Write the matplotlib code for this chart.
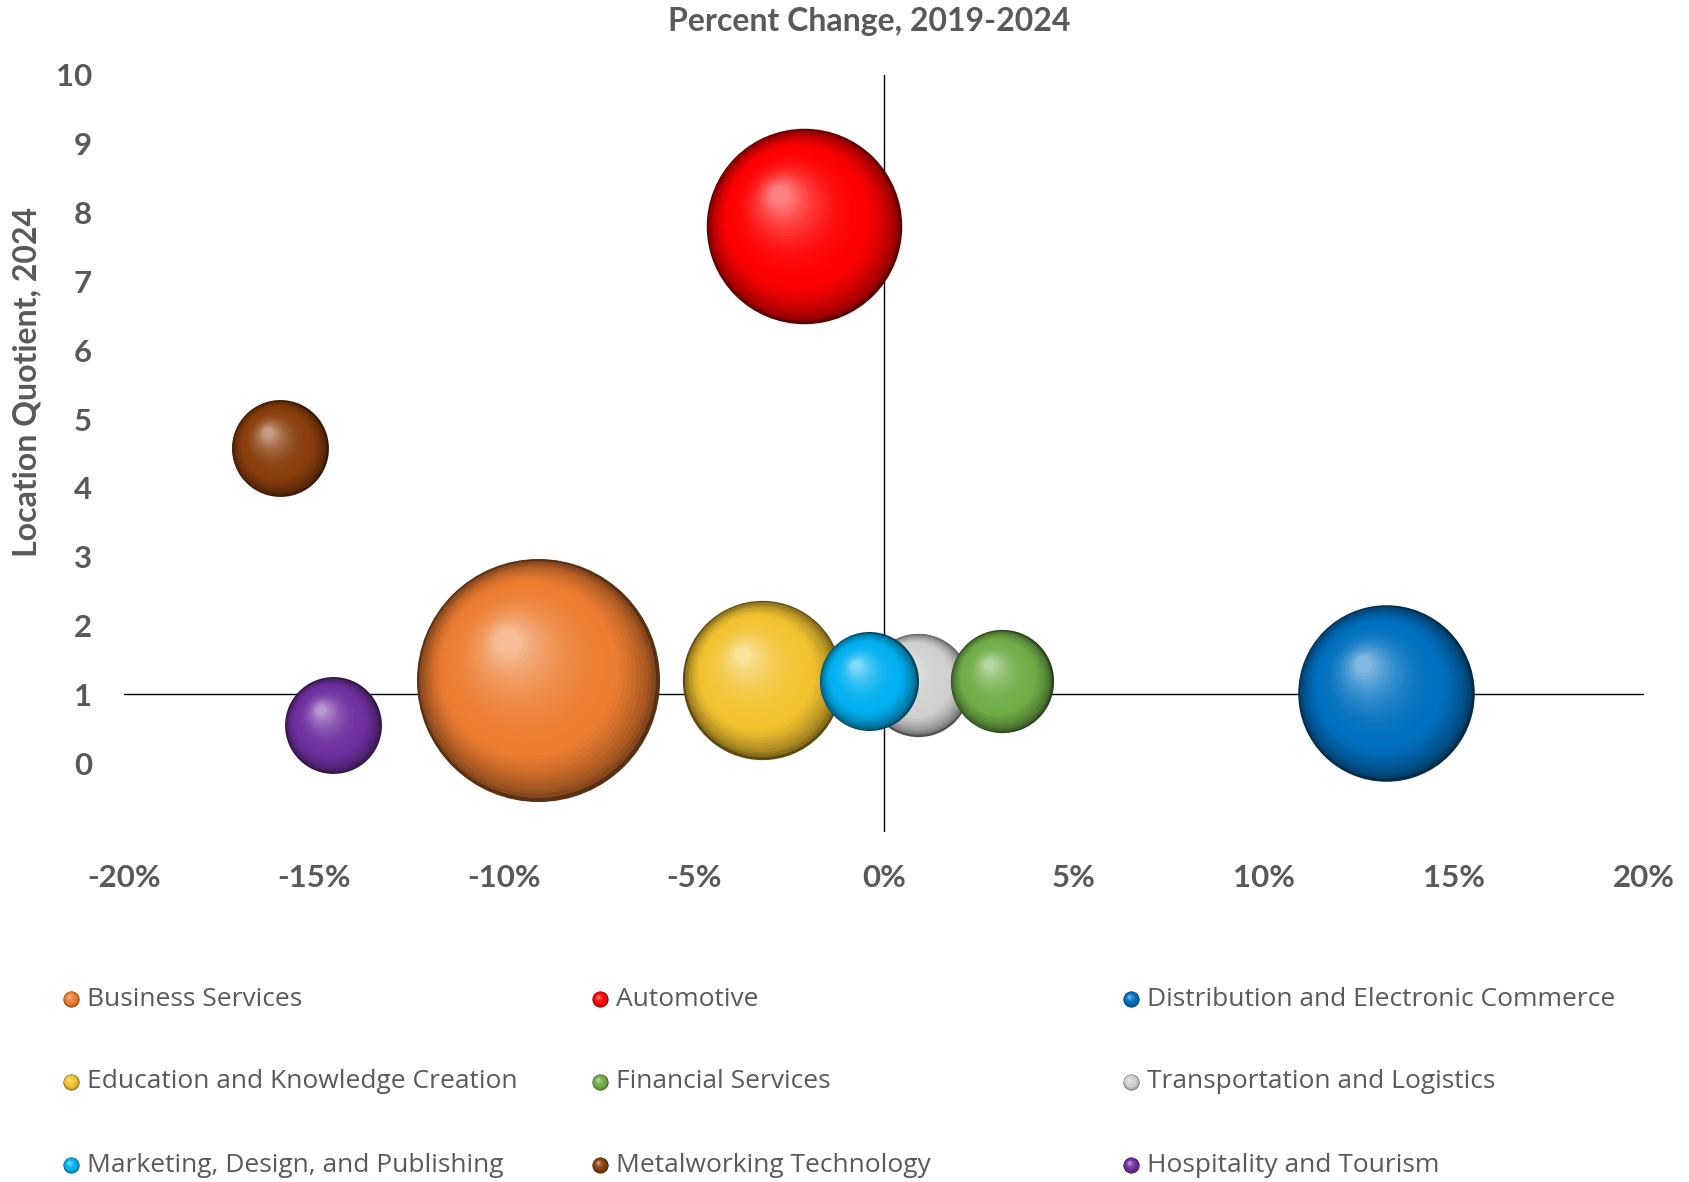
import numpy as np
import matplotlib
matplotlib.use("Agg")
import matplotlib.pyplot as plt
from matplotlib.colors import to_rgb
from matplotlib.ticker import FuncFormatter
from matplotlib.transforms import ScaledTranslation


CLUSTERS = [
    "Business Services",
    "Automotive",
    "Distribution and Electronic Commerce",
    "Education and Knowledge Creation",
    "Financial Services",
    "Transportation and Logistics",
    "Marketing, Design, and Publishing",
    "Metalworking Technology",
    "Hospitality and Tourism",
]
PCT_CHANGE = [-9.1, -2.1, 13.2, -3.2, 3.1, 0.9, -0.4, -15.9, -14.5]
LOCATION_QUOTIENT = [1.21, 7.8, 1.02, 1.21, 1.19, 1.14, 1.19, 4.58, 0.55]
EMPLOYMENT = [25500, 16500, 13450, 10950, 4600, 4600, 4230, 4050, 4050]
COLORS = ["#ED7D31", "#FF0000", "#0070C0", "#F2C230", "#70AD47",
          "#D0D0D0", "#00B0F0", "#8A3E0C", "#7030A0"]

X_TICKS = [-20, -15, -10, -5, 0, 5, 10, 15, 20]
Y_TICKS = [0, 1, 2, 3, 4, 5, 6, 7, 8, 9, 10]

TEXT_COLOR = "#595959"
MAX_DIAM_PT = 175.0


def draw_sphere(ax, x, y, diam_pt, color, zorder, transform=None):
    base = np.array(to_rgb(color))
    dark = base * 0.38
    light = base + (1 - base) * 0.5
    radius = diam_pt / 2
    hx, hy = -0.28 * radius, 0.36 * radius
    base_tr = transform if transform is not None else ax.transData
    layers = 36
    for i in range(layers):
        t = i / (layers - 1)
        f = 1 - 0.9 * t
        if t < 0.3:
            c = dark + (base - dark) * (t / 0.3) ** 0.5
        else:
            c = base + (light - base) * ((t - 0.3) / 0.7) ** 2.2
        dx, dy = (1 - f) * hx, (1 - f) * hy
        tr = base_tr + ScaledTranslation(dx / 72, dy / 72, ax.figure.dpi_scale_trans)
        ax.scatter([x], [y], s=(f * diam_pt) ** 2, color=np.clip(c, 0, 1),
                   transform=tr, zorder=zorder + t * 0.5, linewidths=0)


def main() -> None:
    fig = plt.figure(figsize=(16.9, 11.82), dpi=100)
    ax = fig.add_axes([124 / 1690, 1 - 832 / 1182, 1520 / 1690, (832 - 75) / 1182])

    ax.set_xlim(-20, 20)
    ax.set_ylim(-1, 10)
    for spine in ax.spines.values():
        spine.set_visible(False)
    ax.axhline(1, color="black", linewidth=1.0, zorder=1)
    ax.axvline(0, color="black", linewidth=1.0, zorder=1)

    ax.set_xticks(X_TICKS)
    ax.set_yticks(Y_TICKS)
    ax.xaxis.set_major_formatter(FuncFormatter(lambda v, _: f"{v:.0f}%"))
    ax.tick_params(length=0, labelsize=22.5, labelcolor=TEXT_COLOR)
    ax.tick_params(axis="x", pad=23)
    ax.tick_params(axis="y", pad=23)
    for lab in ax.get_xticklabels() + ax.get_yticklabels():
        lab.set_fontfamily("Lato")
        lab.set_fontweight("bold")

    vmax = max(EMPLOYMENT)
    order = sorted(range(len(CLUSTERS)), key=lambda k: -EMPLOYMENT[k])
    # white sphere sits behind its neighbours
    order.remove(5)
    order.insert(order.index(4), 5)
    for rank, k in enumerate(order):
        diam = MAX_DIAM_PT * np.sqrt(EMPLOYMENT[k] / vmax)
        draw_sphere(ax, PCT_CHANGE[k], LOCATION_QUOTIENT[k], diam, COLORS[k], 2 + rank)

    fig.text(869 / 1690, 1 - 22 / 1182, "Percent Change, 2019-2024", ha="center", va="center",
             fontsize=23, fontweight="bold", color=TEXT_COLOR, family="Lato")
    fig.text(27 / 1690, 1 - 382 / 1182, "Location Quotient, 2024", ha="center", va="center",
             rotation=90, fontsize=23, fontweight="bold", color=TEXT_COLOR, family="Lato")

    # legend drawn in figure pixel coordinates
    lax = fig.add_axes([0, 0, 1, 1], zorder=-1)
    lax.set_xlim(0, 1690)
    lax.set_ylim(1182, 0)
    lax.axis("off")
    col_x = [71, 600, 1131]
    row_y = [999, 1082, 1165]
    for k, name in enumerate(CLUSTERS):
        mx = col_x[k % 3]
        my = row_y[k // 3]
        draw_sphere(lax, mx, my, 11.5, COLORS[k], 2)
        lax.text(mx + 16, my, name, ha="left", va="center", fontsize=19,
                 color=TEXT_COLOR, family="Open Sans")

    fig.savefig("out.png", dpi=100)


if __name__ == "__main__":
    main()
